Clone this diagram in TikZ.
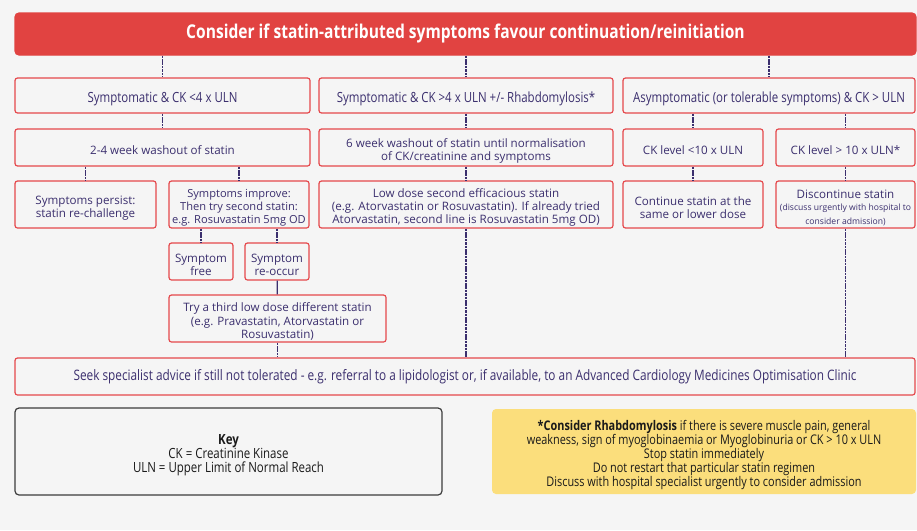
\documentclass[tikz,border=0pt]{standalone}
\usepackage{fontspec}
\setmainfont{Open Sans}
\newfontfamily\narrowfont[FakeStretch=0.82]{Open Sans}
\usetikzlibrary{calc}
\definecolor{cbg}{HTML}{F5F5F5}
\definecolor{cred}{HTML}{E5484C}
\definecolor{ctitle}{HTML}{E14341}
\definecolor{cnavy}{HTML}{3B2F6E}
\definecolor{cyellow}{HTML}{FBDE7C}
\definecolor{cink}{HTML}{1A1A1A}
% a strut on the first line pushes the text a little down in its box
\newcommand\lift{\rule{0pt}{1.3em}}
\newcommand\smalltxt{\fontsize{8.6}{10}\selectfont}

\begin{document}
\begin{tikzpicture}[x=1pt, y=-1pt, font=\fontsize{11.6}{13.2}\selectfont,
  box/.style={draw=cred, line width=1.2pt, rounded corners=2.5pt, fill=cbg,
    text=cnavy, align=center, inner sep=0pt},
  rowhead/.style={box, font=\narrowfont\fontsize{14}{15}\selectfont},
  link/.style={cnavy, line width=1.3pt, dash pattern=on 2.5pt off 0.9pt}]
\useasboundingbox[fill=cbg] (0,0) rectangle (917,530);
%% ------------------------------------------------------------------ top
\node[box, fill=ctitle, draw=ctitle, rounded corners=4pt, text=white,
  minimum width=901, minimum height=42,
  font=\narrowfont\bfseries\fontsize{19}{21}\selectfont] (title) at (465.5,34)
  {Consider if statin-attributed symptoms favour continuation/reinitiation};
% first row: the three cases
\node[rowhead, minimum width=295, minimum height=35] (sympLow) at (162.5,95.5)
  {\lift Symptomatic \& CK <4 x ULN};
\node[rowhead, minimum width=294, minimum height=35] (sympHigh) at (466,95.5)
  {\lift Symptomatic \& CK >4 x ULN +/- Rhabdomylosis*};
\node[rowhead, minimum width=292, minimum height=35] (asymp) at (769,95.5)
  {\lift Asymptomatic (or tolerable symptoms) \& CK > ULN};
% second row
\node[box, minimum width=295, minimum height=37] (washShort) at (162.5,147.5)
  {\lift 2-4 week washout of statin};
\node[box, minimum width=294, minimum height=37] (washLong) at (466,147.5)
  {\lift 6 week washout of statin until normalisation\\of CK/creatinine and symptoms};
\node[box, minimum width=140, minimum height=37] (ckBelow) at (693,147.5)
  {\lift CK level <10 x ULN};
\node[box, minimum width=139, minimum height=37] (ckAbove) at (845.5,147.5)
  {\lift CK level > 10 x ULN*};
% third row
\node[box, minimum width=141, minimum height=47] (persist) at (85.5,204.5)
  {\lift Symptoms persist:\\statin re-challenge};
\node[box, minimum width=140, minimum height=47,
  font=\fontsize{11.1}{13.2}\selectfont] (improve) at (239,204.5)
  {\lift Symptoms improve:\\Then try second statin:\\e.g. Rosuvastatin 5mg OD};
\node[box, minimum width=294, minimum height=47] (lowDose) at (466,204.5)
  {\lift Low dose second efficacious statin\\(e.g. Atorvastatin or Rosuvastatin). If already tried\\Atorvastatin, second line is Rosuvastatin 5mg OD)};
\node[box, minimum width=140, minimum height=47] (continueStatin) at (693,204.5)
  {\lift Continue statin at the\\same or lower dose};
\node[box, minimum width=139, minimum height=47] (discontinue) at (845.5,204.5)
  {\lift Discontinue statin\\[-1pt]\smalltxt (discuss urgently with hospital to\\\smalltxt consider admission)};
% after the second statin
\node[box, minimum width=64, minimum height=37] (symFree) at (201,261.5)
  {\lift Symptom\\free};
\node[box, minimum width=64, minimum height=37] (symReoccur) at (277,261.5)
  {\lift Symptom\\re-occur};
\node[box, minimum width=217, minimum height=47] (third) at (277.5,318.5)
  {\lift Try a third low dose different statin\\(e.g. Pravastatin, Atorvastatin or\\Rosuvastatin)};
\node[box, minimum width=900, minimum height=37,
  font=\narrowfont\fontsize{14.4}{16}\selectfont] (seek) at (465,376.5)
  {Seek specialist advice if still not tolerated - e.g. referral to a lipidologist or, if available, to an Advanced Cardiology Medicines Optimisation Clinic};
%% ------------------------------------------------------------------ notes
\node[box, draw=cink!85, text=cink, rounded corners=4pt, minimum width=427,
  minimum height=87, font=\narrowfont\fontsize{14}{14}\selectfont] (key) at (228.5,451.5)
  {\lift\textbf{Key}\\CK = Creatinine Kinase\\ULN = Upper Limit of Normal Reach};
\node[box, draw=none, fill=cyellow, text=cink, rounded corners=4pt, minimum width=424,
  minimum height=85, font=\narrowfont\fontsize{13.3}{14}\selectfont] (rhabdo) at (704,451.5)
  {\lift\textbf{*Consider Rhabdomylosis} if there is severe muscle pain, general\\
   weakness, sign of myoglobinaemia or Myoglobinuria or CK > 10 x ULN\\
   Stop statin immediately\\Do not restart that particular statin regimen\\
   Discuss with hospital specialist urgently to consider admission};
%% ------------------------------------------------------------------ links
\foreach \a/\b in {title/sympLow,title/sympHigh,title/asymp,
    sympLow/washShort,sympHigh/washLong,asymp/ckBelow,asymp/ckAbove,
    washShort/persist,washShort/improve,washLong/lowDose,
    ckBelow/continueStatin,ckAbove/discontinue,
    improve/symFree,improve/symReoccur}
  \draw[link] (\a.south -| \b.north) -- (\b.north);
\foreach \a in {third,lowDose,discontinue}
  \draw[link] (\a.south) -- (\a.south |- seek.north);
\draw[cnavy, line width=1.3pt] (symReoccur) -- (third);
\end{tikzpicture}
\end{document}
